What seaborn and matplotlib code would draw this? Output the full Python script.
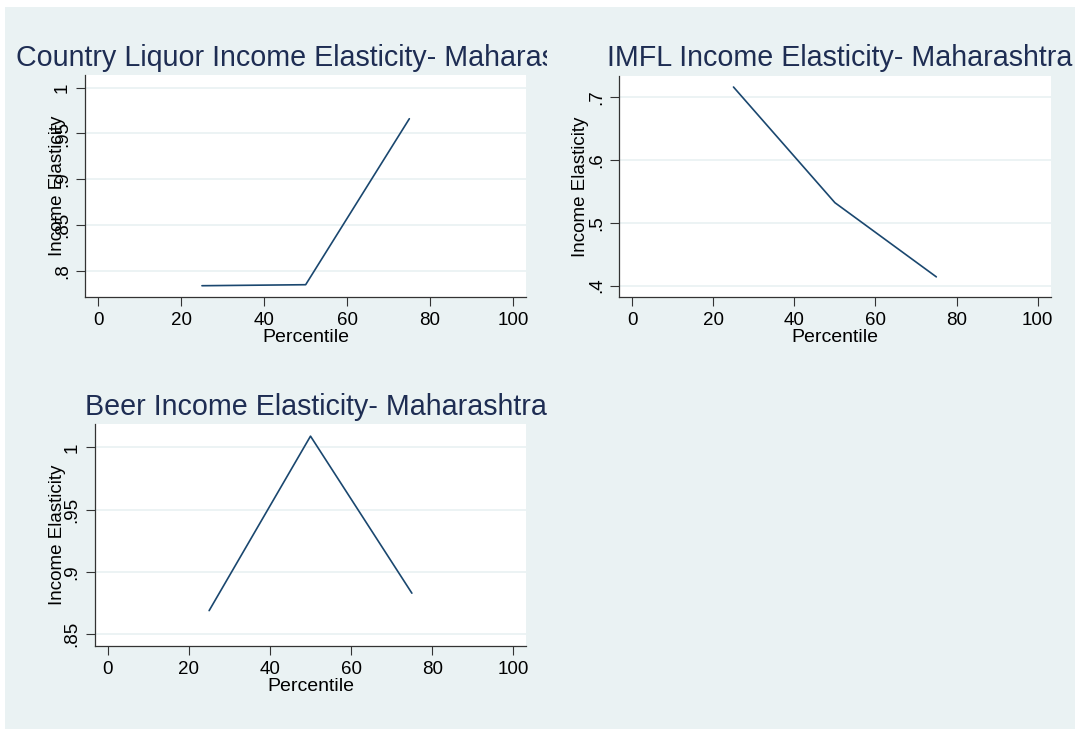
import matplotlib
matplotlib.use("Agg")
import matplotlib.pyplot as plt
import matplotlib.patches as mpatches
from matplotlib.transforms import blended_transform_factory
import seaborn as sns
import pandas as pd

# Data
percentile = [25, 50, 75]
country_liquor = [0.7836, 0.7847, 0.9661]
imfl = [0.716, 0.532, 0.414]
beer = [0.869, 1.009, 0.883]

titles = ["Country Liquor Income Elasticity- Maharashtra",
          "IMFL Income Elasticity- Maharashtra",
          "Beer Income Elasticity- Maharashtra"]

x_ticks = [0, 20, 40, 60, 80, 100]
cl_ticks = [0.8, 0.85, 0.9, 0.95, 1.0]
cl_labels = [".8", ".85", ".9", ".95", "1"]
imfl_ticks = [0.4, 0.5, 0.6, 0.7]
imfl_labels = [".4", ".5", ".6", ".7"]
beer_ticks = [0.85, 0.9, 0.95, 1.0]
beer_labels = [".85", ".9", ".95", "1"]

BG = "#EAF2F3"
LINE = "#1A476F"
TITLE = "#1E2D53"

sns.set_theme(style="ticks")
plt.rcParams['font.family'] = ['Liberation Sans', 'DejaVu Sans']

W, H = 1075, 729
fig = plt.figure(figsize=(W / 100, H / 100), dpi=100, facecolor="white")
fig.patches.append(mpatches.Rectangle((5 / W, 0), 1 - 5 / W, 1 - 7 / H,
                                      transform=fig.transFigure, facecolor=BG,
                                      edgecolor="none", zorder=-10))

# panel boxes in pixels: left, top, right, bottom; title strip: left, right
panels = [
    dict(box=(85.2, 75.0, 526.1, 296.7), y=country_liquor, ticks=cl_ticks,
         labels=cl_labels, ylim=(0.7716, 1.0139), title=titles[0],
         tx=16.5, ty=66, ylab_x=-0.043, strip=(5, 547)),
    dict(box=(619.3, 75.7, 1050.5, 297.3), y=imfl, ticks=imfl_ticks,
         labels=imfl_labels, ylim=(0.3815, 0.734), title=titles[1],
         tx=607, ty=66, ylab_x=-0.070, strip=(547, 1075)),
    dict(box=(95.0, 424.3, 526.0, 646.0), y=beer, ticks=beer_ticks,
         labels=beer_labels, ylim=(0.8406, 1.0185), title=titles[2],
         tx=85.2, ty=415, ylab_x=-0.067, strip=(5, 547)),
]

for p in panels:
    l, t, r, b = p["box"]
    ax = fig.add_axes([l / W, 1 - b / H, (r - l) / W, (b - t) / H])
    ax.set_facecolor("white")
    df = pd.DataFrame({"Percentile": percentile, "Income Elasticity": p["y"]})
    sns.lineplot(data=df, x="Percentile", y="Income Elasticity", ax=ax,
                 color=LINE, linewidth=1.2)
    ax.set_xlim(-3.15, 103.15)
    ax.set_ylim(*p["ylim"])
    ax.set_xticks(x_ticks)
    ax.set_xticklabels([str(v) for v in x_ticks])
    ax.set_yticks(p["ticks"])
    ax.set_yticklabels(p["labels"], rotation=90, va="center")
    ax.grid(axis="y", color=BG, linewidth=1.3)
    ax.set_axisbelow(True)
    for side in ["top", "right"]:
        ax.spines[side].set_visible(False)
    for side in ["left", "bottom"]:
        ax.spines[side].set_color("#333333")
        ax.spines[side].set_linewidth(0.9)
    ax.tick_params(axis="both", length=6.3, width=0.8, color="#333333",
                   labelsize=13.5, labelcolor="black")
    ax.tick_params(axis="x", pad=4.5)
    ax.tick_params(axis="y", pad=4)
    ax.set_xlabel("Percentile", fontsize=14, labelpad=0, color="black")
    ax.set_ylabel("Income Elasticity", fontsize=13.5, color="black")
    ax.yaxis.set_label_coords(p["ylab_x"], 0.5)

    # title sits in a transparent strip so it is cut at the panel edge
    x0, x1 = p["strip"]
    tax = fig.add_axes([x0 / W, 1 - (p["ty"] + 10) / H, (x1 - x0) / W, 40 / H])
    tax.set_axis_off()
    tax.set_xlim(x0, x1)
    tr = blended_transform_factory(tax.transData, fig.transFigure)
    tax.text(p["tx"], 1 - p["ty"] / H, p["title"], fontsize=20.6, color=TITLE,
             ha="left", va="baseline", clip_on=True, transform=tr)

fig.savefig("out.png", dpi=100, facecolor=fig.get_facecolor())
